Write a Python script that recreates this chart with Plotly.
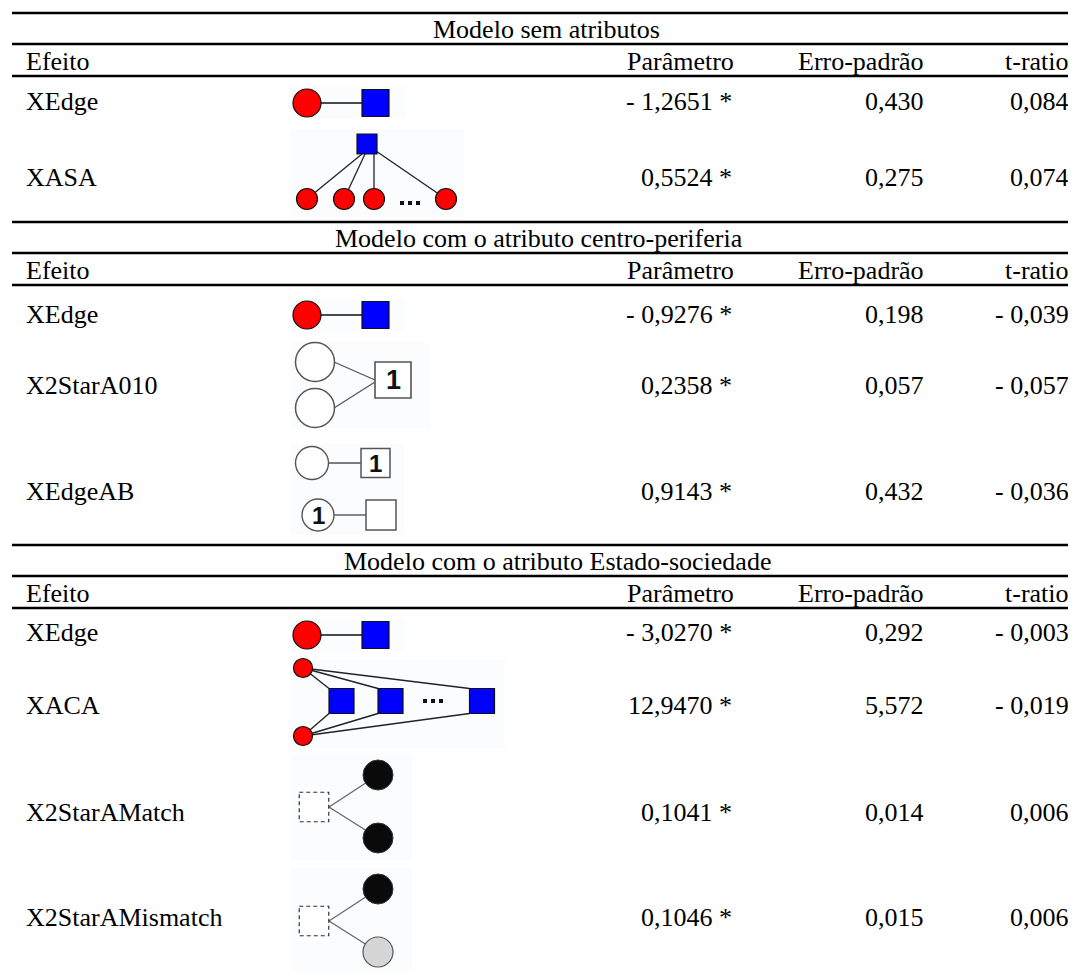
import plotly.graph_objects as go

W, H = 1076, 979
PAGE_MARGIN = 8  # default body margin of the written html page
FONT = "Liberation Serif, Times New Roman, serif"
FS = 26

# ---------------- table content ----------------
section_titles = [
    "Modelo sem atributos",
    "Modelo com o atributo centro-periferia",
    "Modelo com o atributo Estado-sociedade",
]
header_labels = ["Efeito", "Parâmetro", "Erro-padrão", "t-ratio"]

effects = [
    ["XEdge", "XASA"],
    ["XEdge", "X2StarA010", "XEdgeAB"],
    ["XEdge", "XACA", "X2StarAMatch", "X2StarAMismatch"],
]
parametro = [
    ["- 1,2651 *", "0,5524 *"],
    ["- 0,9276 *", "0,2358 *", "0,9143 *"],
    ["- 3,0270 *", "12,9470 *", "0,1041 *", "0,1046 *"],
]
erro_padrao = [
    ["0,430", "0,275"],
    ["0,198", "0,057", "0,432"],
    ["0,292", "5,572", "0,014", "0,015"],
]
t_ratio = [
    ["0,084", "0,074"],
    ["- 0,039", "- 0,057", "- 0,036"],
    ["- 0,003", "- 0,019", "0,006", "0,006"],
]

# ---------------- layout positions (pixels) ----------------
rule_left = 12
section_top = [13, 222, 545]
title_cx = [546, 539, 557]
row_y = [[101, 177], [314, 385, 491], [632, 705, 812, 917]]
label_x = 24
value_right = [734, 926, 1071]
header_right = [736, 926, 1071]

RED, BLUE = "#ff0000", "#0000ff"
BG = "#fbfcfd"
shapes = []
annotations = []


def panel(x0, y0, x1, y1):
    shapes.append(dict(type="rect", x0=x0, x1=x1, y0=y0, y1=y1, fillcolor=BG,
                       line=dict(width=0), layer="below"))


def seg(x0, y0, x1, y1, color="#222", w=1.3):
    shapes.append(dict(type="line", x0=x0, y0=y0, x1=x1, y1=y1,
                       line=dict(color=color, width=w), layer="above"))


def circ(cx, cy, r, fill, lc="#111", w=1.2):
    shapes.append(dict(type="circle", x0=cx - r, x1=cx + r, y0=cy - r, y1=cy + r,
                       fillcolor=fill, line=dict(color=lc, width=w), layer="above"))


def box(cx, cy, s, fill, lc="#111", w=1.2, dash=None):
    ln = dict(color=lc, width=w)
    if dash:
        ln["dash"] = dash
    shapes.append(dict(type="rect", x0=cx - s / 2, x1=cx + s / 2, y0=cy - s / 2,
                       y1=cy + s / 2, fillcolor=fill, line=ln, layer="above"))


def one(cx, cy, size=24):
    annotations.append(dict(x=cx, y=cy, text="<b>1</b>", showarrow=False,
                            xanchor="center", yanchor="middle",
                            font=dict(family="Liberation Sans, Arial", size=size, color="#111")))


def dots(x0, y, gap=8, s=4):
    for k in range(3):
        shapes.append(dict(type="rect", x0=x0 + k * gap, x1=x0 + k * gap + s,
                           y0=y - s / 2, y1=y + s / 2, fillcolor="#111",
                           line=dict(width=0), layer="above"))


def icon_edge(cy):
    panel(291, cy - 16, 405, cy + 16)
    seg(307, cy, 375, cy, "#111", 1.5)
    circ(307, cy, 14, RED)
    box(375.5, cy, 27, BLUE)


def icon_asa(cy):
    panel(291, cy - 48, 465, cy + 40)
    sq = (367, cy - 33)
    leaves = [307, 344, 374, 446]
    ly = cy + 22
    seg(362, sq[1] + 10, leaves[0], ly)
    seg(365, sq[1] + 10, leaves[1], ly)
    seg(374, sq[1] + 10, leaves[2], ly)
    seg(376, sq[1] + 7, leaves[3], ly)
    box(sq[0], sq[1], 20, BLUE)
    for lx in leaves:
        circ(lx, ly, 10.5, RED)
    dots(400, ly + 4)


def icon_2star_a010(cy):
    panel(291, cy - 43, 430, cy + 43)
    g = "#555"
    seg(334, cy - 23, 375, cy - 5, g, 1.3)
    seg(334, cy + 23, 375, cy - 3, g, 1.3)
    circ(315, cy - 23, 19.5, "white", g, 1.5)
    circ(315, cy + 23, 19.5, "white", g, 1.5)
    box(393, cy - 5, 36, "white", g, 1.6)
    one(393, cy - 5, 27)


def icon_edge_ab(cy):
    panel(291, cy - 47, 404, cy + 44)
    g = "#555"
    y1, y2 = cy - 28, cy + 24
    seg(328, y1, 361, y1, g, 1.4)
    circ(312, y1, 16.5, "white", g, 1.4)
    box(375.5, y1, 29, "white", g, 1.5)
    one(375.5, y1, 24)
    seg(334, y2, 366, y2, g, 1.4)
    circ(318, y2, 16, "white", g, 1.4)
    one(318, y2, 24)
    box(381, y2, 30, "white", g, 1.5)


def icon_aca(cy):
    panel(291, cy - 45, 505, cy + 43)
    top, bot = (303, cy - 37), (303, cy + 31)
    sqx = [341.5, 390.5, 482]
    sy = cy - 4
    for sx in sqx:
        seg(top[0], top[1], sx - 12.5, sy - 12.5, "#222", 1.4)
        seg(bot[0], bot[1], sx - 12.5, sy + 12.5, "#222", 1.4)
    circ(top[0], top[1], 9.5, RED)
    circ(bot[0], bot[1], 9.5, RED)
    for sx in sqx:
        box(sx, sy, 25, BLUE)
    dots(423, sy)


def icon_2star_match(cy, second_fill):
    panel(291, cy - 58, 412, cy + 48)
    g = "#666"
    sqc = (314, cy - 5)
    c1 = (378, cy - 37)
    c2 = (378, cy + 26)
    seg(sqc[0] + 15, sqc[1], c1[0], c1[1], g, 1.3)
    seg(sqc[0] + 15, sqc[1], c2[0], c2[1], g, 1.3)
    box(sqc[0], sqc[1], 29.5, "white", "#333", 1.2, dash="4px,3px")
    circ(c1[0], c1[1], 15, "#0a0a0a", "#333", 1)
    if second_fill == "black":
        circ(c2[0], c2[1], 15, "#0a0a0a", "#333", 1)
    else:
        circ(c2[0], c2[1], 15, "#d6d6d6", "#555", 1.2)


# ---------------- rules & text ----------------
for i, top in enumerate(section_top):
    for dy in (0, 31, 63):
        shapes.append(dict(type="line", x0=rule_left, x1=W, y0=top + dy, y1=top + dy,
                           line=dict(color="black", width=2.5), layer="above"))
    annotations.append(dict(x=title_cx[i], y=top + 16, text=section_titles[i],
                            showarrow=False, xanchor="center", yanchor="middle",
                            font=dict(family=FONT, size=FS, color="black")))
    hy = top + 48
    annotations.append(dict(x=label_x, y=hy, text=header_labels[0], showarrow=False,
                            xanchor="left", yanchor="middle",
                            font=dict(family=FONT, size=FS, color="black")))
    for j in range(3):
        annotations.append(dict(x=header_right[j], y=hy, text=header_labels[j + 1],
                                showarrow=False, xanchor="right", yanchor="middle",
                                font=dict(family=FONT, size=FS, color="black")))
    for r, name in enumerate(effects[i]):
        y = row_y[i][r]
        annotations.append(dict(x=label_x, y=y, text=name, showarrow=False,
                                xanchor="left", yanchor="middle",
                                font=dict(family=FONT, size=FS, color="black")))
        for j, col in enumerate((parametro, erro_padrao, t_ratio)):
            annotations.append(dict(x=value_right[j], y=y, text=col[i][r],
                                    showarrow=False, xanchor="right", yanchor="middle",
                                    font=dict(family=FONT, size=FS, color="black")))

# ---------------- diagrams ----------------
icon_edge(row_y[0][0] + 2)
icon_asa(row_y[0][1])
icon_edge(row_y[1][0] + 1)
icon_2star_a010(row_y[1][1])
icon_edge_ab(row_y[1][2])
icon_edge(row_y[2][0] + 3)
icon_aca(row_y[2][1])
icon_2star_match(row_y[2][2], "black")
icon_2star_match(row_y[2][3] + 9, "grey")

# the page body adds an 8px margin; size the figure so that page pixels
# line up with the reference coordinates
fig = go.Figure()
fig.update_layout(
    width=W - PAGE_MARGIN, height=H - 2 * PAGE_MARGIN,
    margin=dict(l=0, r=0, t=0, b=0),
    paper_bgcolor="white", plot_bgcolor="white",
    xaxis=dict(range=[PAGE_MARGIN, W], visible=False, fixedrange=True),
    yaxis=dict(range=[H - PAGE_MARGIN, PAGE_MARGIN], visible=False, fixedrange=True),
    shapes=shapes, annotations=annotations, showlegend=False,
)
fig.write_html("out.html")
